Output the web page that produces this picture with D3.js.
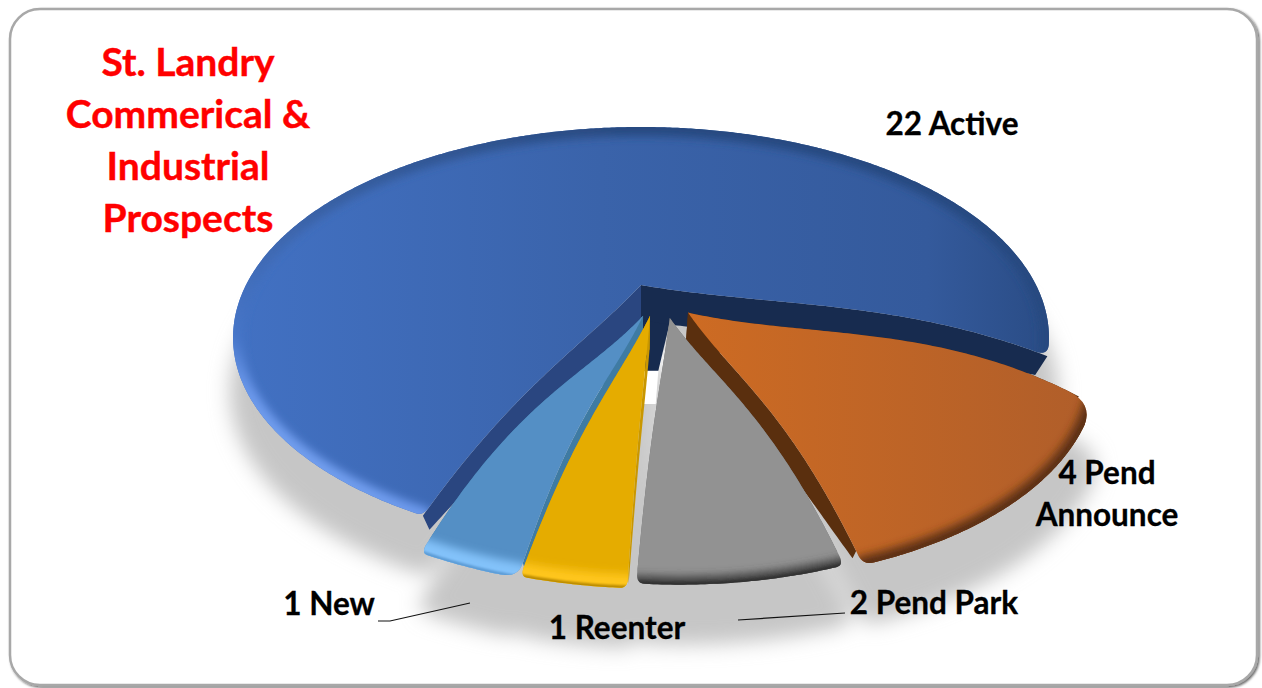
<!DOCTYPE html>
<html>
<head>
<meta charset="utf-8">
<script src="https://cdn.jsdelivr.net/npm/d3@7"></script>
<style>
  html, body { margin: 0; padding: 0; background: #fff; }
  svg { display: block; }
  text { font-family: Lato, "Open Sans", sans-serif; font-weight: 700; }
</style>
</head>
<body>
<div class="pie"></div>
<script>
const categories = ["Active", "Pend Announce", "Pend Park", "Reenter", "New"];
const values = [22, 4, 2, 1, 1];
const titleLines = ["St. Landry", "Commerical &", "Industrial", "Prospects"];

// colours per slice: top surface, wall, rim, hard edge
const topColors = ["#3b63aa", "#c4652a", "#929292", "#e5ac00", "#548fc5"];
const wallColors = ["#2a4680", "#5a2f0e", "#6e6e6e", "#c99700", "#3f7ba3"];
const rimColors = ["url(#blueRim)", "#5e3312", "#3d3d3d", "#ffc61f", "#83c2fa"];
const edgeColors = ["none", "#5e3312", "#333333", "#b98a00", "#5b9bd5"];
const rimWidths = [18, 18, 16, 28, 30];

// how each slice sits on the pie plane
const pullX = [0, 0.115, 0.07, 0.022, 0.005];
const pullY = [0, 0.135, 0.160, 0.150, 0.150];
const sliceSize = [1, 0.96, 0.94, 0.96, 0.96];
const sliceTurn = [0, 4.5, 3.5, 1.5, 0.7];
const wallTaper = [0.4, 0.8, 0.95, 0.6, 0.6];
const wallReach = [1, 0.97, 0.97, 0.97, 0.97];
const cornerStart = [6, 22, 7, 7, 14];
const cornerEnd = [10, 10, 7, 7, 6];
const edgeBow = [14, 22, 22, 18, 24];
const drawOrder = [0, 1, 4, 2, 3];

const dimensions = { width: 1262, height: 688 };

// camera: circle on a plane, seen in perspective
const cx = 641, cy = 285, R = 395, tilt = 0.5, persp = 0.25;
const depth = 35, depthShrink = 0.05;
const startDeg = 205.3;

const project = (X, Y, z, r, bow) => {
  const s = 1 / (1 - persp * Y);
  const m = 1 - depthShrink * z;
  const lift = bow * 6.75 * r * r * (1 - r);
  return [cx + R * X * s * m, cy + z * depth - lift + R * tilt * Y * s * m];
};

const wrapper = d3.select(".pie")
  .append("svg")
  .attr("width", dimensions.width)
  .attr("height", dimensions.height)
  .attr("viewBox", `0 0 ${dimensions.width} ${dimensions.height}`);

const defs = wrapper.append("defs");

const frameShadow = defs.append("filter").attr("id", "frameShadow")
  .attr("x", "-2%").attr("y", "-2%").attr("width", "104%").attr("height", "104%");
frameShadow.append("feDropShadow")
  .attr("dx", 1.5).attr("dy", 1.5).attr("stdDeviation", 1)
  .attr("flood-color", "#000").attr("flood-opacity", 0.6);

const blurBig = defs.append("filter").attr("id", "blurBig")
  .attr("x", "-10%").attr("y", "-10%").attr("width", "120%").attr("height", "120%");
blurBig.append("feGaussianBlur").attr("stdDeviation", 10);

const userBlur = (id, amount) => {
  defs.append("filter").attr("id", id)
    .attr("filterUnits", "userSpaceOnUse")
    .attr("x", 0).attr("y", 0).attr("width", dimensions.width).attr("height", dimensions.height)
    .append("feGaussianBlur").attr("stdDeviation", amount);
};
userBlur("blurRim", 4);
userBlur("blurEdge", 1.2);

const gradient = (id, x1, y1, x2, y2, stops) => {
  const g = defs.append("linearGradient").attr("id", id)
    .attr("gradientUnits", "userSpaceOnUse")
    .attr("x1", x1).attr("y1", y1).attr("x2", x2).attr("y2", y2);
  stops.forEach(([o, c]) => g.append("stop").attr("offset", o).attr("stop-color", c));
};
gradient("blueTop", 233, 0, 1050, 0, [[0, "#4271c3"], [0.45, "#3a63aa"], [0.85, "#345a9c"], [1, "#2a4c85"]]);
gradient("orangeTop", 690, 0, 1090, 0, [[0, "#cd6b23"], [1, "#b05e2a"]]);
gradient("blueRim", 350, 530, 620, 130, [[0, "#7ca8f4"], [0.12, "#6a97ea"], [0.2, "#4675c8"], [0.5, "#3a62a6"], [1, "#284a80"]]);
topColors[0] = "url(#blueTop)";
topColors[1] = "url(#orangeTop)";

const pie = d3.pie()
  .sort(null)
  .startAngle(startDeg * Math.PI / 180)
  .endAngle(startDeg * Math.PI / 180 + 2 * Math.PI);
const slices = pie(values);

const line = d3.line();
const radialSteps = d3.range(101).map(j => j / 100);

// swap a sharp corner of an outline for a small curve
const roundCorner = (pts, corner, size) => {
  const idx = pts.indexOf(corner);
  let a = idx, b = idx;
  while (a > 0 && Math.hypot(pts[a][0] - corner[0], pts[a][1] - corner[1]) < size) a--;
  while (b < pts.length - 1 && Math.hypot(pts[b][0] - corner[0], pts[b][1] - corner[1]) < size) b++;
  const curve = d3.range(1, 8).map(j => {
    const t = j / 8;
    return [0, 1].map(k => (1 - t) * (1 - t) * pts[a][k] + 2 * t * (1 - t) * corner[k] + t * t * pts[b][k]);
  });
  return [...pts.slice(0, a + 1), ...curve, ...pts.slice(b)];
};

const geometry = (d, i) => {
  const turn = sliceTurn[i] * Math.PI / 180;
  const a0 = d.startAngle + turn, a1 = d.endAngle + turn;
  const n = Math.max(30, Math.round((a1 - a0) * 120));
  const angles = d3.range(n + 1).map(j => a0 + (a1 - a0) * j / n);
  const point = (a, r, z) => project(
    pullX[i] + r * sliceSize[i] * Math.sin(a),
    pullY[i] - r * sliceSize[i] * Math.cos(a),
    z * (1 - wallTaper[i] * Math.pow(r, 6)),
    r,
    edgeBow[i]
  );
  const arc = angles.map(a => point(a, 1, 0));
  const edgeIn = radialSteps.slice(0, -1).map(r => point(a0, r, 0));
  const edgeOut = radialSteps.slice(0, -1).reverse().map(r => point(a1, r, 0));
  let outline = [...edgeIn, ...arc, ...edgeOut];
  outline = roundCorner(outline, arc[0], cornerStart[i]);
  outline = roundCorner(outline, arc[arc.length - 1], cornerEnd[i]);
  const wallSteps = radialSteps.filter(r => r <= wallReach[i]);
  const wall = a => [
    ...wallSteps.map(r => point(a, r, 0)),
    ...wallSteps.slice().reverse().map(r => point(a, r, 1)),
  ];
  return { outline, arc, wallStart: wall(a0), wallEnd: wall(a1) };
};
const geoms = slices.map(geometry);

const shape = pts => line(pts) + "Z";

// shadow on the floor
const shadow = wrapper.append("g")
  .attr("transform", "translate(3, 54)")
  .attr("filter", "url(#blurBig)");
geoms.forEach(g => shadow.append("path")
  .attr("d", shape(g.outline))
  .attr("fill", "#c6c6c6")
  .attr("stroke", "#c6c6c6")
  .attr("stroke-width", 12)
  .attr("stroke-linejoin", "round"));

// card frame goes under the shadow
wrapper.insert("rect", "g")
  .attr("x", 10).attr("y", 9)
  .attr("width", 1247).attr("height", 676)
  .attr("rx", 30)
  .attr("fill", "#fff")
  .attr("stroke", "#a8a8a8")
  .attr("stroke-width", 2.5)
  .attr("filter", "url(#frameShadow)");

const bounds = wrapper.append("g");

// the notch under the centre: dark tongue, then a sliver of white
const hub = (X, z) => project(X, 0, z, 1, 0);
bounds.append("path")
  .attr("d", shape([hub(0.008, 2.45), hub(0.05, 2.45), hub(0.045, 3.4), hub(0.008, 3.4)]))
  .attr("fill", "#ffffff");
bounds.append("path")
  .attr("d", shape([hub(0, 0.9), hub(0.08, 0.9), hub(0.05, 2.45), hub(0.008, 2.45)]))
  .attr("fill", "#172b4f");

drawOrder.forEach(i => {
  const g = geoms[i];
  const sg = bounds.append("g");

  // the two cut faces
  sg.append("path").attr("d", shape(g.wallStart)).attr("fill", wallColors[i]);
  sg.append("path").attr("d", shape(g.wallEnd)).attr("fill", i === 0 ? "#172b4f" : wallColors[i]);

  // top surface
  sg.append("path").attr("d", shape(g.outline)).attr("fill", topColors[i]);

  // rounded rim, only inside the slice
  defs.append("clipPath").attr("id", `clip${i}`)
    .append("path").attr("d", shape(g.outline));
  const rim = sg.append("g").attr("clip-path", `url(#clip${i})`);
  rim.append("path")
    .attr("d", line(g.arc))
    .attr("fill", "none")
    .attr("stroke", rimColors[i])
    .attr("stroke-width", rimWidths[i])
    .attr("stroke-linecap", "round")
    .attr("filter", "url(#blurRim)");
  rim.append("path")
    .attr("d", line(g.arc))
    .attr("fill", "none")
    .attr("stroke", edgeColors[i])
    .attr("stroke-width", 5)
    .attr("filter", "url(#blurEdge)");
});

// leader lines
const leaders = [
  [[378, 621], [390, 621], [470, 603]],
  [[738, 620], [845, 613]],
];
leaders.forEach(l => wrapper.append("path")
  .attr("d", line(l))
  .attr("fill", "none")
  .attr("stroke", "#111")
  .attr("stroke-width", 1.2));

const labelFont = 31.5;
const labelSpots = [
  { x: 952, y: 135 },
  { x: 1107, y: 484, lines: ["Pend", "Announce"] },
  { x: 934, y: 614 },
  { x: 617, y: 639 },
  { x: 329, y: 615 },
];
categories.forEach((c, i) => {
  const spot = labelSpots[i];
  const rows = spot.lines
    ? [`${values[i]} ${spot.lines[0]}`, spot.lines[1]]
    : [`${values[i]} ${c}`];
  rows.forEach((r, j) => wrapper.append("text")
    .attr("x", spot.x)
    .attr("y", spot.y + j * 42)
    .attr("text-anchor", "middle")
    .attr("fill", "#000")
    .attr("stroke", "#000")
    .attr("stroke-width", 0.3)
    .style("font-size", `${labelFont}px`)
    .text(r));
});

titleLines.forEach((t, j) => wrapper.append("text")
  .attr("x", 188)
  .attr("y", 76 + j * 52)
  .attr("text-anchor", "middle")
  .attr("fill", "#ff0000")
  .attr("stroke", "#ff0000")
  .attr("stroke-width", 0.4)
  .style("font-size", "39px")
  .text(t));
</script>
</body>
</html>
